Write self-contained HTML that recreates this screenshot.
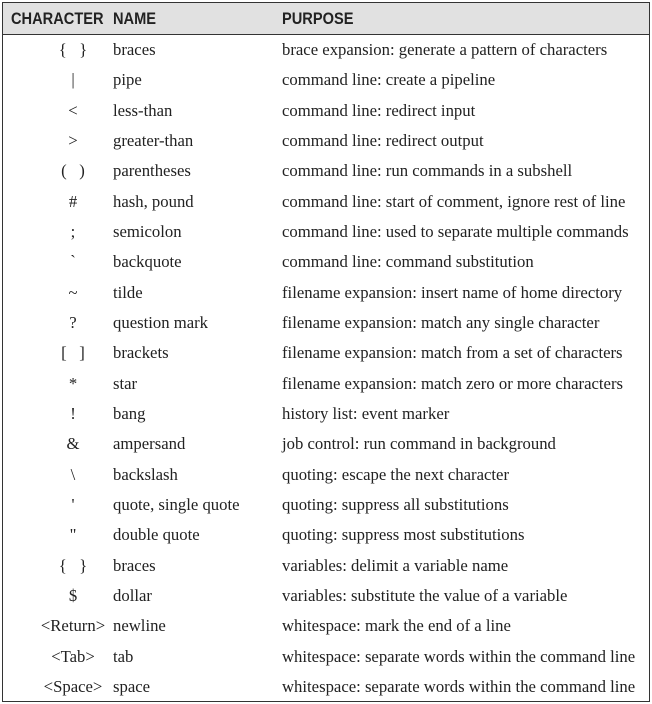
<!DOCTYPE html>
<html><head><meta charset="utf-8"><style>
body{margin:0;width:652px;height:704px;background:#fff;position:relative;overflow:hidden}
#box{position:absolute;left:2px;top:2px;width:646px;height:698px;border:1.5px solid #333;box-sizing:content-box}
#hdr{position:absolute;left:0;top:0;width:646px;height:31px;background:#e1e1e1;border-bottom:1.5px solid #333;font-family:"Liberation Sans",sans-serif;font-weight:bold;font-size:17px;color:#222}
#hdr span{position:absolute;top:6px;transform:scaleX(0.86);transform-origin:left center;white-space:nowrap}
.row{position:absolute;left:0;width:646px;height:30px;font-family:"Liberation Serif",serif;font-size:16.7px;color:#222}
.row span{position:absolute;top:5px;white-space:pre}
.c{left:0;width:140px;text-align:center}
.n{left:110px}.p{left:279px}
</style></head><body>
<div id="box">
<div id="hdr">
<span style="left:8px">CHARACTER</span>
<span style="left:110px">NAME</span>
<span style="left:279px">PURPOSE</span>
</div>
<div id="rows"></div>
</div>
<script>
const chars=["{   }","|","<",">","(   )","#",";","`","~","?","[   ]","*","!","&","\\","'","\"","{   }","$","<Return>","<Tab>","<Space>"];
const names=["braces","pipe","less-than","greater-than","parentheses","hash, pound","semicolon","backquote","tilde","question mark","brackets","star","bang","ampersand","backslash","quote, single quote","double quote","braces","dollar","newline","tab","space"];
const purposes=["brace expansion: generate a pattern of characters","command line: create a pipeline","command line: redirect input","command line: redirect output","command line: run commands in a subshell","command line: start of comment, ignore rest of line","command line: used to separate multiple commands","command line: command substitution","filename expansion: insert name of home directory","filename expansion: match any single character","filename expansion: match from a set of characters","filename expansion: match zero or more characters","history list: event marker","job control: run command in background","quoting: escape the next character","quoting: suppress all substitutions","quoting: suppress most substitutions","variables: delimit a variable name","variables: substitute the value of a variable","whitespace: mark the end of a line","whitespace: separate words within the command line","whitespace: separate words within the command line"];
const R=document.getElementById('rows');
chars.forEach((c,i)=>{
const r=document.createElement('div');r.className='row';r.style.top=(32+i*30.33)+'px';


const a=document.createElement('span');a.className='c';a.textContent=c;


const b=document.createElement('span');b.className='n';b.textContent=names[i];


const p=document.createElement('span');p.className='p';p.textContent=purposes[i];


r.append(a,b,p);R.appendChild(r);});
</script>
</body></html>
